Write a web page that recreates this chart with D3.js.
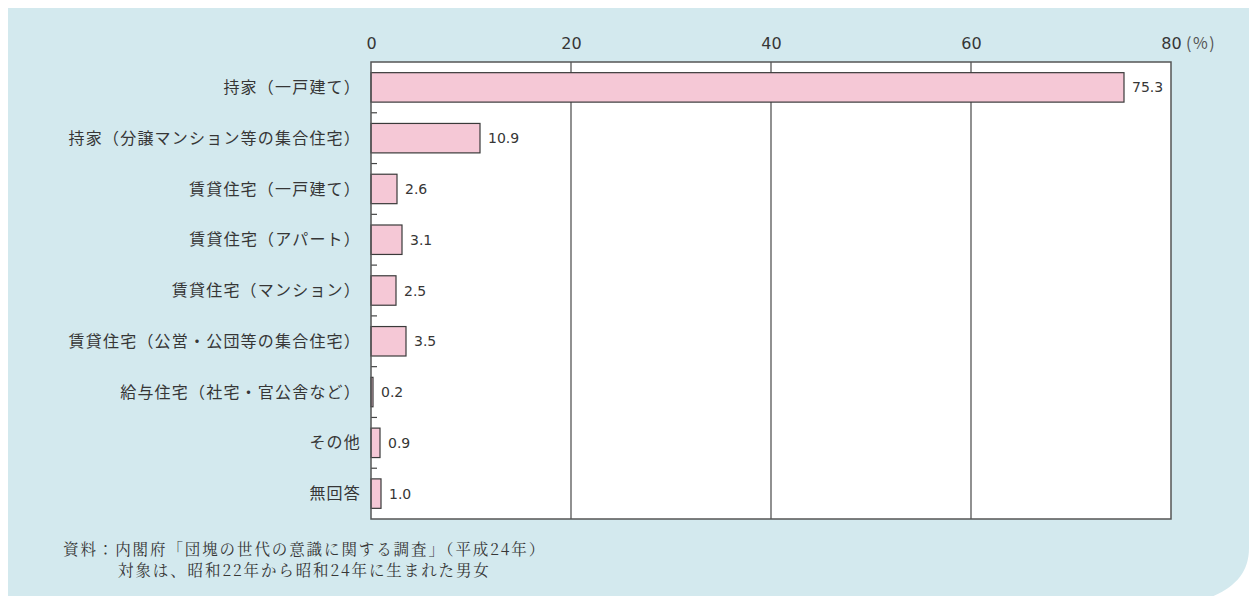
<!DOCTYPE html>
<html lang="ja">
<head>
<meta charset="utf-8">
<script src="https://cdn.jsdelivr.net/npm/d3@7"></script>
<style>
  html, body { margin: 0; padding: 0; background: #ffffff; }
  svg { display: block; }
</style>
</head>
<body>
<svg id="chart" width="1249" height="596"></svg>
<script>
// 住宅の種類別の割合（%）
const categories = [
  "持家（一戸建て）",
  "持家（分譲マンション等の集合住宅）",
  "賃貸住宅（一戸建て）",
  "賃貸住宅（アパート）",
  "賃貸住宅（マンション）",
  "賃貸住宅（公営・公団等の集合住宅）",
  "給与住宅（社宅・官公舎など）",
  "その他",
  "無回答"
];
const values = [75.3, 10.9, 2.6, 3.1, 2.5, 3.5, 0.2, 0.9, 1.0];
const xTicks = [0, 20, 40, 60, 80];
const unitLabel = "(%)";
const sourceLines = [
  "資料：内閣府「団塊の世代の意識に関する調査」（平成24年）",
  "対象は、昭和22年から昭和24年に生まれた男女"
];

const svg = d3.select("#chart");
const W = 1249, H = 596;
const plot = { left: 371, right: 1171, top: 62, bottom: 519 };
const sansJP = "'Noto Sans CJK JP', 'Noto Sans', sans-serif";
const numFont = "'DejaVu Sans', Arial, sans-serif";
const textColor = "#363636";

// 背景パネル（右下に丸み）
svg.append("path")
  .attr("d", `M8,8 H${W} V548 C${W},574 ${W - 16},590 ${W - 46},${H + 4} L8,${H + 4} Z`)
  .attr("fill", "#d3e9ee");

const x = d3.scaleLinear().domain([0, 80]).range([plot.left, plot.right]);
const y = d3.scaleBand().domain(categories)
  .range([plot.top, plot.bottom])
  .paddingInner(0.42).paddingOuter(0.21);

// プロット領域
svg.append("rect")
  .attr("x", plot.left).attr("y", plot.top)
  .attr("width", plot.right - plot.left).attr("height", plot.bottom - plot.top)
  .attr("fill", "#ffffff");

// 縦のグリッド線
svg.append("g").selectAll("line")
  .data(xTicks.filter(d => d > 0 && d < 80))
  .join("line")
  .attr("x1", d => x(d)).attr("x2", d => x(d))
  .attr("y1", plot.top).attr("y2", plot.bottom)
  .attr("stroke", "#555555").attr("stroke-width", 1.3);

// カテゴリ境界の目盛り
const step = y.step();
svg.append("g").selectAll("line")
  .data(d3.range(1, categories.length))
  .join("line")
  .attr("x1", plot.left).attr("x2", plot.left + 6)
  .attr("y1", i => plot.top + i * step).attr("y2", i => plot.top + i * step)
  .attr("stroke", "#444444").attr("stroke-width", 1.2);

// 棒
svg.append("g").selectAll("rect")
  .data(values)
  .join("rect")
  .attr("x", x(0))
  .attr("y", (d, i) => y(categories[i]))
  .attr("width", d => x(d) - x(0))
  .attr("height", y.bandwidth())
  .attr("fill", "#f5c8d6")
  .attr("stroke", "#3a3a3a").attr("stroke-width", 1.2);

// 値ラベル
svg.append("g").selectAll("text")
  .data(values)
  .join("text")
  .attr("x", d => x(d) + 8)
  .attr("y", (d, i) => y(categories[i]) + y.bandwidth() / 2)
  .attr("dy", "0.36em")
  .attr("font-family", numFont).attr("font-size", 14)
  .attr("fill", textColor)
  .text(d => d.toFixed(1));

// 枠線
svg.append("rect")
  .attr("x", plot.left).attr("y", plot.top)
  .attr("width", plot.right - plot.left).attr("height", plot.bottom - plot.top)
  .attr("fill", "none").attr("stroke", "#555555").attr("stroke-width", 1.5);

// 上部の目盛りラベル
const axis = d3.axisTop(x).tickValues(xTicks).tickSize(0).tickPadding(0);
const gAxis = svg.append("g")
  .attr("transform", `translate(0,${plot.top - 13})`)
  .call(axis);
gAxis.select(".domain").remove();
gAxis.selectAll("text")
  .attr("font-family", numFont).attr("font-size", 16)
  .attr("fill", textColor).attr("dy", 0);
svg.append("text")
  .attr("x", x(80) + 15).attr("y", plot.top - 13)
  .attr("font-family", sansJP).attr("font-size", 16)
  .attr("letter-spacing", 1.5)
  .attr("fill", "#555555")
  .text(unitLabel);

// カテゴリラベル
svg.append("g").selectAll("text")
  .data(categories)
  .join("text")
  .attr("x", 361)
  .attr("y", d => y(d) + y.bandwidth() / 2)
  .attr("dy", "0.35em")
  .attr("text-anchor", "end")
  .attr("font-family", sansJP).attr("font-size", 16)
  .attr("letter-spacing", 1.2)
  .attr("fill", textColor)
  .text(d => d);

// 出典
svg.append("g").selectAll("text")
  .data(sourceLines)
  .join("text")
  .attr("x", (d, i) => i === 0 ? 63 : 118)
  .attr("y", (d, i) => 555 + i * 21)
  .attr("font-family", "'Noto Serif CJK JP', 'Noto Sans CJK JP', serif")
  .attr("font-size", 15.5)
  .attr("letter-spacing", 1.9)
  .attr("fill", textColor)
  .text(d => d);
</script>
</body>
</html>
